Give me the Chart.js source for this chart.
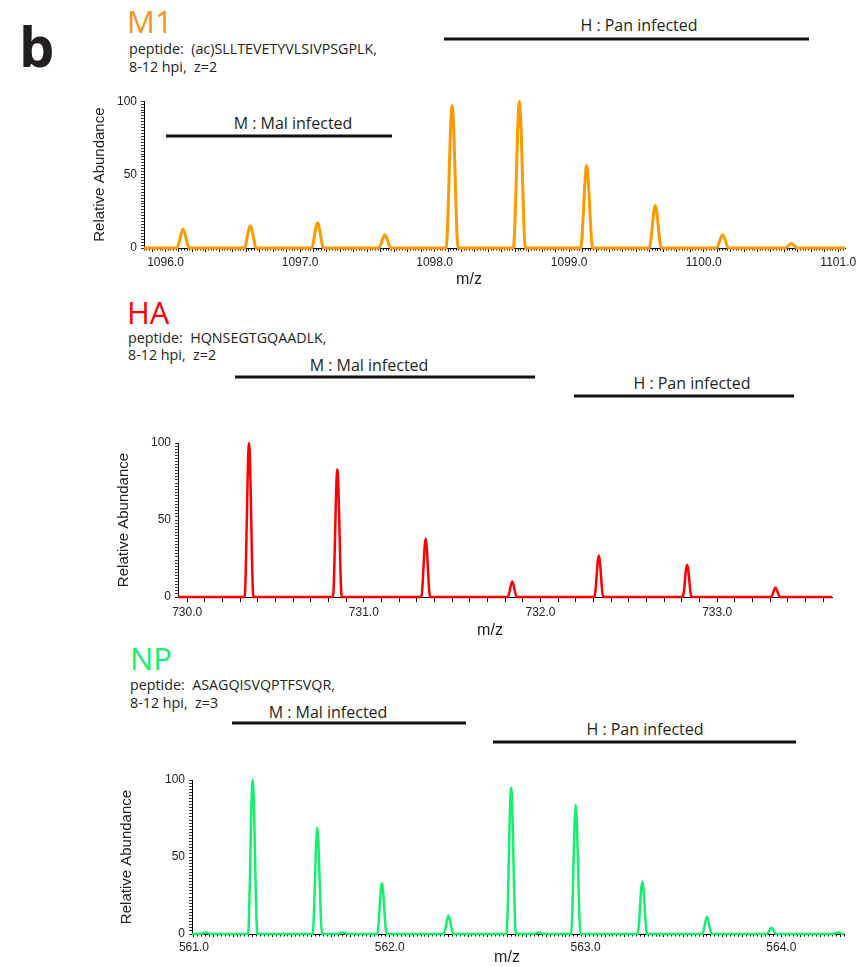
<!DOCTYPE html>
<html>
<head>
<meta charset="utf-8">
<script src="https://cdn.jsdelivr.net/npm/chart.js@4.4.1/dist/chart.umd.min.js"></script>
<style>
  body { margin: 0; width: 863px; height: 967px; overflow: hidden; background: #fff; position: relative;
         font-family: "Open Sans", sans-serif; color: #231f20; }
  canvas { position: absolute; left: 0; }
  .t { position: absolute; white-space: pre; line-height: 1; transform: translateY(-50%); }
  .big { font-size: 31px; }
  .pep { font-size: 14.3px; }
  .lab { position: absolute; font-size: 16px; line-height: 1; white-space: nowrap; transform: translate(-50%, -50%); }
  .bar { position: absolute; height: 3px; background: #111; transform: translateY(-50%); }
  .mz { position: absolute; font: 16px "Liberation Sans", Arial, sans-serif; line-height: 1; transform: translate(-50%, -50%); }
</style>
</head>
<body>

<div class="t" style="left:19px;top:45px;font:bold 56px 'Open Sans',sans-serif;">b</div>

<!-- M1 -->
<div class="t big" style="left:127px;top:21px;color:#f7941d;">M1</div>
<div class="t pep" style="left:129px;top:49px;">peptide:  (ac)SLLTEVETYVLSIVPSGPLK,</div>
<div class="t pep" style="left:129px;top:67px;">8-12 hpi,  z=2</div>
<div class="lab" style="left:639px;top:25px;">H : Pan infected</div>
<div class="bar" style="left:444px;width:365px;top:39px;"></div>
<div class="lab" style="left:293px;top:123px;">M : Mal infected</div>
<div class="bar" style="left:166px;width:226px;top:136px;"></div>
<canvas id="m1" width="863" height="190" style="top:90px;"></canvas>
<div class="mz" style="left:469px;top:279px;">m/z</div>

<!-- HA -->
<div class="t big" style="left:127px;top:312px;color:#ff0000;">HA</div>
<div class="t pep" style="left:128px;top:338px;">peptide:  HQNSEGTGQAADLK,</div>
<div class="t pep" style="left:128px;top:355px;">8-12 hpi,  z=2</div>
<div class="lab" style="left:369px;top:365px;">M : Mal infected</div>
<div class="bar" style="left:235px;width:300px;top:377px;"></div>
<div class="lab" style="left:692px;top:383px;">H : Pan infected</div>
<div class="bar" style="left:574px;width:220px;top:396px;"></div>
<canvas id="ha" width="863" height="200" style="top:430px;"></canvas>
<div class="mz" style="left:490px;top:630px;">m/z</div>

<!-- NP -->
<div class="t big" style="left:130px;top:658px;color:#14f06e;">NP</div>
<div class="t pep" style="left:130px;top:685px;">peptide:  ASAGQISVQPTFSVQR,</div>
<div class="t pep" style="left:130px;top:703px;">8-12 hpi,  z=3</div>
<div class="lab" style="left:328px;top:712px;">M : Mal infected</div>
<div class="bar" style="left:232px;width:234px;top:723px;"></div>
<div class="lab" style="left:645px;top:729px;">H : Pan infected</div>
<div class="bar" style="left:493px;width:303px;top:742px;"></div>
<canvas id="np" width="863" height="200" style="top:767px;"></canvas>
<div class="mz" style="left:507px;top:957px;">m/z</div>

<script>
// M1: (ac)SLLTEVETYVLSIVPSGPLK, z=2
const m1Range = [1095.84, 1101.05];
const m1Mz = [1096.13, 1096.63, 1097.13, 1097.63, 1098.13, 1098.63, 1099.13, 1099.64, 1100.14, 1100.65];
const m1Abundance = [13, 15, 17, 9, 97, 100, 56, 29, 9, 3];

// HA: HQNSEGTGQAADLK, z=2
const haRange = [729.948, 733.65];
const haMz = [730.35, 730.85, 731.35, 731.84, 732.33, 732.83, 733.33];
const haAbundance = [100, 83, 38, 10, 27, 21, 6];

// NP: ASAGQISVQPTFSVQR, z=3
const npRange = [560.99, 564.32];
const npMz = [561.06, 561.30, 561.63, 561.76, 561.96, 562.30, 562.62, 562.76, 562.95, 563.29, 563.62, 563.95, 564.29];
const npAbundance = [1, 100, 69, 1, 33, 12, 95, 1, 84, 34, 11, 4, 1];

const yTickLabels = [0, 50, 100];

// centroid list -> profile line (flat baseline with a narrow peak per centroid)
function profile(range, mz, ab, hw) {
  const pts = [{ x: range[0], y: 0 }];
  mz.forEach((c, i) => {
    pts.push({ x: c - hw, y: 0 }, { x: c, y: ab[i] }, { x: c + hw, y: 0 });
  });
  pts.push({ x: range[1], y: 0 });
  return pts;
}

const isWhole = v => Math.abs(v - Math.round(v)) < 1e-6;
const isTenth = v => Math.abs(v * 10 - Math.round(v * 10)) < 1e-6;
const tickFont = { family: "'Liberation Sans', Arial, sans-serif", size: 12 };

function drawSpectrum(id, o) {
  new Chart(document.getElementById(id), {
    type: 'line',
    data: {
      datasets: [{
        data: profile(o.range, o.mz, o.ab, o.hw),
        borderColor: o.color,
        borderWidth: o.lw,
        borderJoinStyle: 'round',
        cubicInterpolationMode: 'monotone',
        pointRadius: 0,
        clip: 6
      }]
    },
    options: {
      responsive: false,
      animation: false,
      layout: { padding: o.pad },
      plugins: { legend: { display: false }, tooltip: { enabled: false } },
      scales: {
        x: {
          type: 'linear',
          min: o.range[0],
          max: o.range[1],
          afterFit: s => { s.height = 30; },
          border: { color: '#000', width: 1 },
          grid: {
            drawOnChartArea: false,
            tickLength: o.tickLen,
            tickColor: '#000',
            tickWidth: 1,
            tickBorderDash: ctx => (ctx.tick && isTenth(ctx.tick.value)) ? [] : [1.5, 30]
          },
          ticks: {
            stepSize: o.minor ? 0.02 : 0.1,
            maxTicksLimit: 1000,
            includeBounds: false,
            autoSkip: false,
            maxRotation: 0,
            padding: 3,
            color: '#222',
            font: tickFont,
            callback: v => isWhole(v) ? v.toFixed(1) : ''
          }
        },
        y: {
          min: 0,
          max: 100,
          afterFit: s => { s.width = o.yw; },
          border: { color: '#000', width: 1 },
          grid: { drawOnChartArea: false, tickLength: 3, tickColor: '#000', tickWidth: 0.8 },
          ticks: {
            stepSize: 2,
            autoSkip: false,
            padding: 4,
            color: '#222',
            font: tickFont,
            callback: v => yTickLabels.includes(v) ? String(v) : ''
          },
          title: {
            display: true,
            text: 'Relative Abundance',
            color: '#222',
            font: { family: "'Liberation Sans', Arial, sans-serif", size: 15 },
            padding: { top: 4, bottom: 4 }
          }
        }
      }
    }
  });
}

drawSpectrum('m1', { range: m1Range, mz: m1Mz, ab: m1Abundance, hw: 0.045, color: '#ff9900', lw: 3,
  pad: { left: 87, top: 9, right: 18, bottom: 2 }, yw: 57, tickLen: 4, minor: true });
drawSpectrum('ha', { range: haRange, mz: haMz, ab: haAbundance, hw: 0.025, color: '#ff0000', lw: 2.5,
  pad: { left: 111, top: 13, right: 31, bottom: 3 }, yw: 67, tickLen: 5, minor: false });
drawSpectrum('np', { range: npRange, mz: npMz, ab: npAbundance, hw: 0.024, color: '#14f06e', lw: 2.5,
  pad: { left: 114, top: 13, right: 19, bottom: 3 }, yw: 78, tickLen: 3, minor: true });
</script>
</body>
</html>
